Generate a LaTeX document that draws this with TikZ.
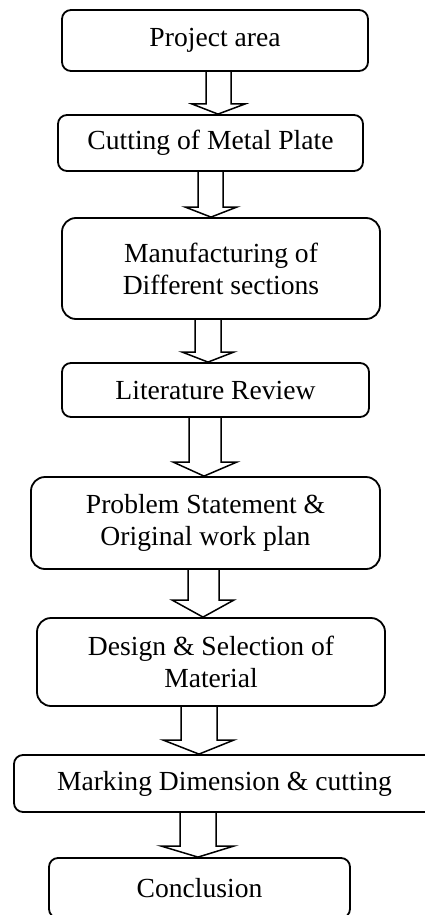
\documentclass[tikz,border=0pt]{standalone}
\usepackage{fontspec}
\setmainfont{Liberation Serif}
\begin{document}
\begin{tikzpicture}[x=1pt,y=-1pt,
  box/.style={draw, line width=1.8pt, rounded corners=9pt, inner sep=0pt, align=center,
    font=\fontsize{27.6}{32}\selectfont},
  bigbox/.style={box, rounded corners=14pt},
  arr/.style={draw, line width=1.5pt, miter limit=20}]
\useasboundingbox (0,0) rectangle (425,915);
\clip (0,0) rectangle (425,915);
\newcommand\blockarr[8]{%
  \draw[arr] (#3,0 |- #1.south) -- (#3,#5) -- (#6,#5) -- (#8,0 |- #2.north)
    -- (#7,#5) -- (#4,#5) -- (#4,0 |- #1.south);}
\node[box, minimum width=306pt, minimum height=61pt] (b1) at (215,40.5) {Project area};
\node[box, minimum width=305pt, minimum height=56pt] (b2) at (210.5,143) {Cutting of Metal Plate};
\node[bigbox, minimum width=318pt, minimum height=101pt] (b3) at (221,268.5) {Manufacturing of\\Different sections};
\node[box, minimum width=307pt, minimum height=54pt] (b4) at (215.5,390) {Literature Review};
\node[bigbox, minimum width=349pt, minimum height=92pt] (b5) at (205.5,523) {Problem Statement \&\\Original work plan};
\node[bigbox, minimum width=348pt, minimum height=88pt] (b6) at (211,662) {Design \& Selection of\\Material};
\node[box, minimum width=421pt, minimum height=57pt] (b7) at (224.5,783.5) {Marking Dimension \& cutting};
\node[box, minimum width=301pt, minimum height=60pt] (b8) at (199.5,888) {Conclusion};
\blockarr{b1}{b2}{206}{231}{104}{192}{245}{218}
\blockarr{b2}{b3}{198}{223}{207}{185}{237}{211}
\blockarr{b3}{b4}{195}{221}{352}{182}{234}{208}
\blockarr{b4}{b5}{189}{221}{462}{173}{237}{204}
\blockarr{b5}{b6}{188}{219}{600}{172}{234}{203}
\blockarr{b6}{b7}{181}{217}{740}{163}{234}{199}
\blockarr{b7}{b8}{180}{216}{846}{161}{234}{198}
\end{tikzpicture}
\end{document}
